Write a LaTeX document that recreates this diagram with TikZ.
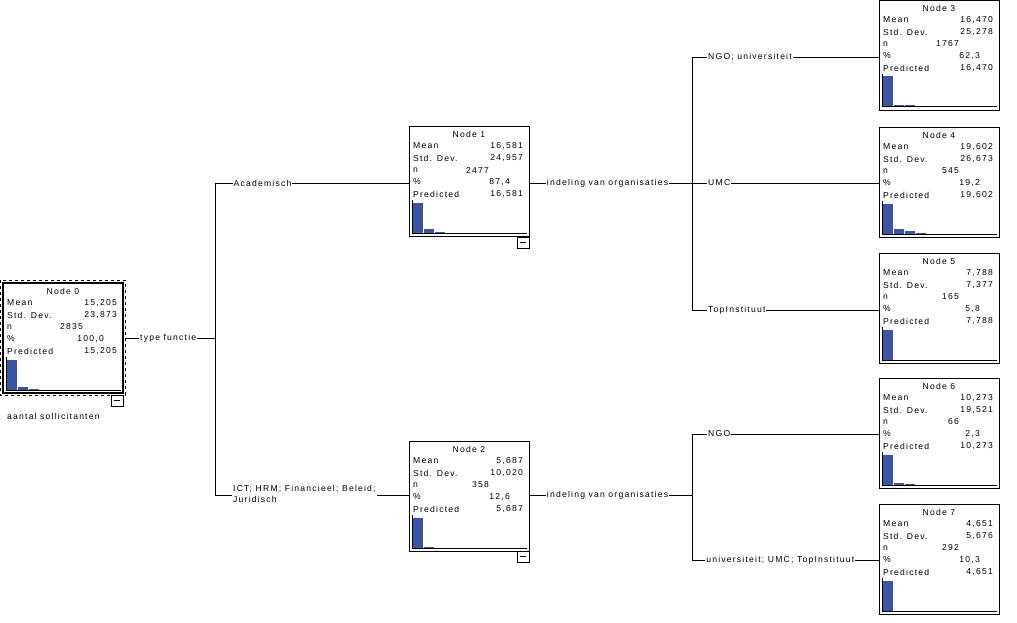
\documentclass[tikz,border=0pt]{standalone}
\usepackage{fontspec}
\setmainfont{Liberation Sans}[LetterSpace=14]
\definecolor{barc}{RGB}{60,84,164}
\begin{document}
\begin{tikzpicture}[x=1pt,y=-1pt,
  txt/.style={font=\fontsize{8.6}{9.8}\selectfont,inner sep=0pt,text=black},
  lbl/.style={txt,fill=white,inner xsep=1pt},
  box/.style={draw,line width=0.6pt,anchor=north west,minimum width=120pt,minimum height=110pt,inner sep=0pt},
  bar/.style={fill=barc,draw=none},
  wire/.style={line width=0.5pt}]
\useasboundingbox (0,0) rectangle (1017,623);
\newcommand{\tnode}[9]{%
  \node[box] (#1) at (#2,#3) {};
  \node[txt] at (#2+60,#3+8) {#4};
  \node[txt,anchor=west] at (#2+4,#3+20) {Mean};
  \node[txt,anchor=east] at (#2+114,#3+20) {#5};
  \node[txt,anchor=west] at (#2+4,#3+32) {Std. Dev.};
  \node[txt,anchor=east] at (#2+114,#3+32) {#6};
  \node[txt,anchor=west] at (#2+4,#3+44) {n};
  \node[txt,anchor=east] at (#2+80,#3+44) {#7};
  \node[txt,anchor=west] at (#2+4,#3+56) {\%};
  \node[txt,anchor=east] at (#2+101,#3+56) {#8};
  \node[txt,anchor=west] at (#2+4,#3+68) {Predicted};
  \node[txt,anchor=east] at (#2+114,#3+68) {#9};
  \draw[line width=0.3pt] (#2+3,#3+74) -- (#2+3,#3+107);
  \draw[line width=1pt] (#2+3,#3+107) -- (#2+118,#3+107);
}
\newcommand{\bars}[3]{%
  \foreach \h [count=\i from 0] in {#3} {\fill[bar] (#1+4+\i*11,#2+106.5) rectangle ++(10,-\h);}
}
\newcommand{\collapse}[2]{\draw[line width=0.5pt,fill=white] (#1-12,#2) rectangle ++(12,11); \draw[line width=0.5pt] (#1-9,#2+5.5)--(#1-3,#2+5.5);}
% node 0
\draw[dashed,line width=0.5pt] (0,280) rectangle (125,395);
\tnode{n0}{3}{283}{Node 0}{15,205}{23,873}{2835}{100,0}{15,205}
\draw[line width=1.5pt] (3,283) rectangle (123,393);
\bars{3}{283}{30,3,1}
\collapse{123}{395}
\node[txt,anchor=west] at (7,416) {aantal sollicitanten};
% level 1
\tnode{n1}{409}{126}{Node 1}{16,581}{24,957}{2477}{87,4}{16,581}
\bars{409}{126}{30,4,1}
\collapse{529}{237}
\tnode{n2}{409}{441}{Node 2}{5,687}{10,020}{358}{12,6}{5,687}
\bars{409}{441}{30,1}
\collapse{529}{551}
% level 2
\tnode{n3}{879}{0}{Node 3}{16,470}{25,278}{1767}{62,3}{16,470}
\bars{879}{0}{30,1,1}
\tnode{n4}{879}{127}{Node 4}{19,602}{26,673}{545}{19,2}{19,602}
\bars{879}{127}{30,5,3,1}
\tnode{n5}{879}{253}{Node 5}{7,788}{7,377}{165}{5,8}{7,788}
\bars{879}{253}{30}
\tnode{n6}{879}{378}{Node 6}{10,273}{19,521}{66}{2,3}{10,273}
\bars{879}{378}{30,2,1}
\tnode{n7}{879}{504}{Node 7}{4,651}{5,676}{292}{10,3}{4,651}
\bars{879}{504}{30}
% connectors
\coordinate (j0) at (215,338);
\coordinate (j0a) at (215,183);
\coordinate (j0b) at (215,495);
\draw[wire] (125,338) -- (j0) node[lbl,pos=0.48] {type functie};
\draw[wire] (j0a) -- (j0b);
\draw[wire] (j0a) -- (n1.west|-j0a) node[lbl,anchor=west,pos=0.09] {Academisch};
\draw[wire] (j0b) -- (n2.west|-j0b);
\node[lbl,anchor=north west,align=left] at (232,485) {ICT; HRM; Financieel; Beleid;\\[1.5pt]Juridisch};
\coordinate (j1) at (692,183);
\coordinate (j1a) at (692,57);
\coordinate (j1b) at (692,310);
\draw[wire] (n1.east|-j1) -- (j1) node[lbl,pos=0.48] {indeling van organisaties};
\draw[wire] (j1a) -- (j1b);
\draw[wire] (j1a) -- (n3.west|-j1a) node[lbl,anchor=west,pos=0.08] {NGO; universiteit};
\draw[wire] (j1) -- (n4.west|-j1) node[lbl,anchor=west,pos=0.08] {UMC};
\draw[wire] (j1b) -- (n5.west|-j1b) node[lbl,anchor=west,pos=0.08] {TopInstituut};
\coordinate (j2) at (692,495);
\coordinate (j2a) at (692,434);
\coordinate (j2b) at (692,560);
\draw[wire] (n2.east|-j2) -- (j2) node[lbl,pos=0.48] {indeling van organisaties};
\draw[wire] (j2a) -- (j2b);
\draw[wire] (j2a) -- (n6.west|-j2a) node[lbl,anchor=west,pos=0.08] {NGO};
\draw[wire] (j2b) -- (n7.west|-j2b) node[lbl,anchor=west,pos=0.07] {universiteit; UMC; TopInstituut};
\end{tikzpicture}
\end{document}
